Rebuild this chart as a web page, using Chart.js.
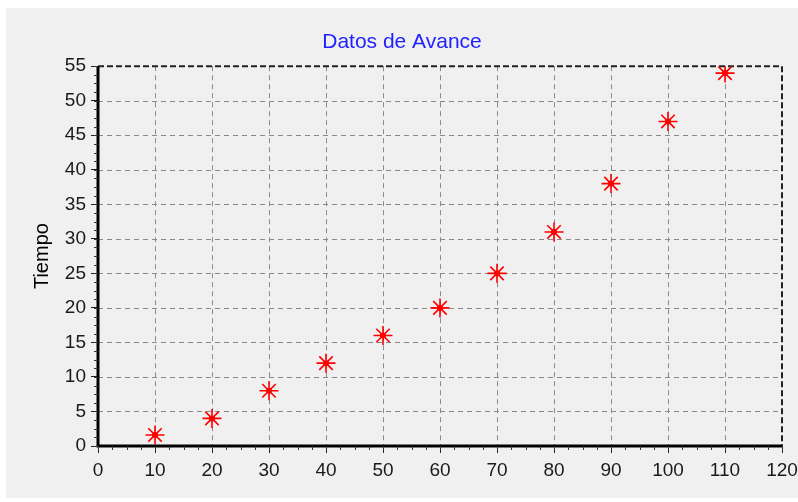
<!DOCTYPE html>
<html>
<head>
<meta charset="utf-8">
<script src="https://cdn.jsdelivr.net/npm/chart.js@4/dist/chart.umd.min.js"></script>
<style>
  body { margin: 0; background: #ffffff; }
  #panel { position: absolute; left: 6px; top: 8px; width: 792px; height: 490px; background: #f0f0f0; }
</style>
</head>
<body>
<div id="panel"><canvas id="avanceChart" width="792" height="490"></canvas></div>
<script>
const avance = [10, 20, 30, 40, 50, 60, 70, 80, 90, 100, 110];
const tiempo = [1.6, 4, 8, 12, 16, 20, 25, 31, 38, 47, 54];
const xLimits = [0, 120];
const yLimits = [0, 55];

const FONT = "'Liberation Sans', Arial, sans-serif";

// dashed grid, plot frame and minor ticks
const framePlugin = {
  id: 'frame',
  beforeDatasetsDraw(chart) {
    const { ctx, chartArea: a, scales: { x, y } } = chart;
    ctx.save();
    ctx.lineWidth = 1;
    ctx.strokeStyle = '#8a8a8a';
    ctx.setLineDash([5, 4]);
    x.ticks.forEach(t => {
      if (t.value <= xLimits[0] || t.value >= xLimits[1]) return;
      const px = Math.round(x.getPixelForValue(t.value)) + 0.5;
      ctx.beginPath(); ctx.moveTo(px, a.top); ctx.lineTo(px, a.bottom); ctx.stroke();
    });
    y.ticks.forEach(t => {
      if (t.value <= yLimits[0] || t.value >= yLimits[1]) return;
      const py = Math.round(y.getPixelForValue(t.value)) + 0.5;
      ctx.beginPath(); ctx.moveTo(a.left, py); ctx.lineTo(a.right, py); ctx.stroke();
    });

    // top and right edges: dashed black
    ctx.strokeStyle = '#222';
    ctx.lineWidth = 2;
    ctx.setLineDash([6, 3]);
    ctx.beginPath(); ctx.moveTo(a.left, a.top); ctx.lineTo(a.right, a.top); ctx.lineTo(a.right, a.bottom); ctx.stroke();

    // left and bottom axes: solid black
    ctx.setLineDash([]);
    ctx.strokeStyle = '#000';
    ctx.lineWidth = 3;
    ctx.beginPath(); ctx.moveTo(a.left, a.top); ctx.lineTo(a.left, a.bottom); ctx.lineTo(a.right, a.bottom); ctx.stroke();

    // minor ticks
    ctx.lineWidth = 1;
    ctx.strokeStyle = '#333';
    for (let v = xLimits[0]; v <= xLimits[1]; v += 2.5) {
      const px = Math.round(x.getPixelForValue(v)) + 0.5;
      ctx.beginPath(); ctx.moveTo(px, a.bottom); ctx.lineTo(px, a.bottom + 4); ctx.stroke();
    }
    for (let v = yLimits[0]; v <= yLimits[1]; v += 1.25) {
      const py = Math.round(y.getPixelForValue(v)) + 0.5;
      ctx.beginPath(); ctx.moveTo(a.left - 4, py); ctx.lineTo(a.left, py); ctx.stroke();
    }
    ctx.restore();
  }
};

new Chart(document.getElementById('avanceChart'), {
  type: 'scatter',
  data: {
    datasets: [
      {
        data: avance.map((v, i) => ({ x: v, y: tiempo[i] })),
        pointStyle: 'star',
        pointRadius: 9.5,
        pointBorderWidth: 1.6,
        pointBorderColor: '#ff0000',
        pointBackgroundColor: '#ff0000'
      },
      {
        data: avance.map((v, i) => ({ x: v, y: tiempo[i] })),
        pointStyle: 'circle',
        pointRadius: 3,
        pointBorderWidth: 0,
        pointBackgroundColor: '#ff0000'
      }
    ]
  },
  options: {
    responsive: false,
    animation: false,
    layout: { padding: 0 },
    plugins: {
      legend: { display: false },
      tooltip: { enabled: false },
      title: {
        display: true,
        text: 'Datos de Avance',
        color: '#2222ff',
        font: { family: FONT, size: 21, weight: 'normal' },
        padding: { top: 22, bottom: 11 }
      }
    },
    scales: {
      x: {
        type: 'linear',
        min: xLimits[0],
        max: xLimits[1],
        afterFit: s => { s.height = 52; s.paddingRight = 16; },
        ticks: { stepSize: 10, color: '#1a1a1a', padding: 6, font: { family: FONT, size: 19 } },
        grid: { drawOnChartArea: false, tickLength: 7, tickColor: '#222', tickWidth: 1 },
        border: { display: false }
      },
      y: {
        type: 'linear',
        min: yLimits[0],
        max: yLimits[1],
        afterFit: s => { s.width = 92; },
        ticks: { stepSize: 5, color: '#1a1a1a', padding: 5, font: { family: FONT, size: 19 } },
        grid: { drawOnChartArea: false, tickLength: 7, tickColor: '#222', tickWidth: 1 },
        border: { display: false },
        title: {
          display: true,
          text: 'Tiempo',
          color: '#000',
          font: { family: FONT, size: 20 },
          padding: { top: 24, bottom: 0 }
        }
      }
    }
  },
  plugins: [framePlugin]
});
</script>
</body>
</html>
